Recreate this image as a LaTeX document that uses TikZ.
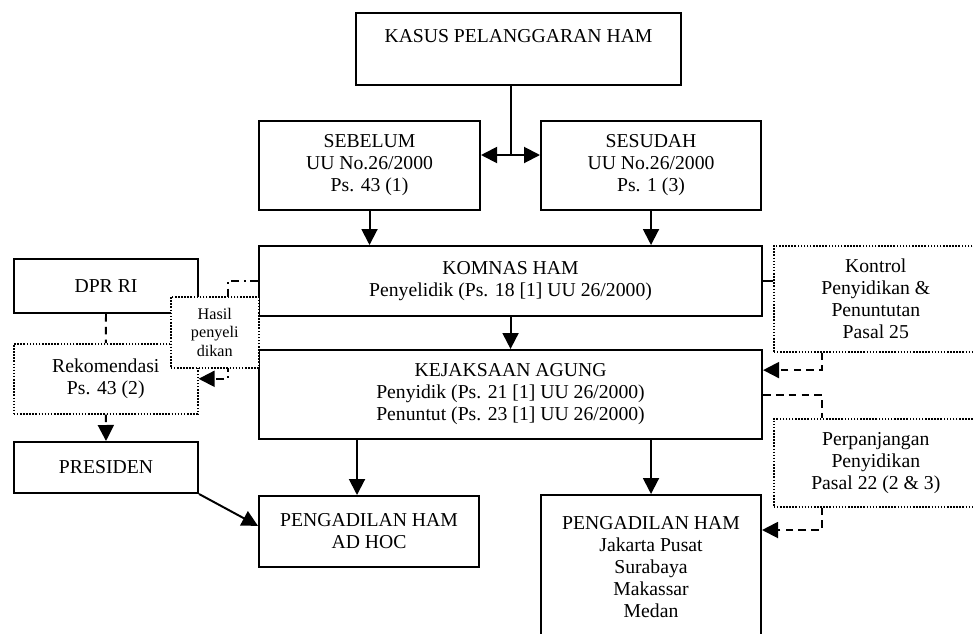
\documentclass[tikz,border=0pt]{standalone}
\usepackage{fontspec}
\setmainfont{Liberation Serif}
\usetikzlibrary{arrows.meta}
\tikzset{
  box/.style={draw, line width=1.4pt, align=center, inner sep=2pt, anchor=north west,
    font=\fontsize{14}{15.6}\selectfont},
  dotbox/.style={box, line width=1.1pt, dash pattern=on 1.1pt off 1.1pt, fill=white},
  tip/.style={-{Triangle[length=0.4cm,width=0.4cm]}},
  link/.style={line width=1.4pt},
  dashlink/.style={link, dash pattern=on 0.19cm off 0.13cm},
  dashdotlink/.style={link, dash pattern=on 0.2cm off 0.11cm on 0.05cm off 0.11cm},
}
\begin{document}
\begin{tikzpicture}[x=0.025cm,y=-0.025cm]
  \useasboundingbox (0,0) rectangle (974,633);
  % main column
  \node (kasus) [box, minimum width=8.125cm, minimum height=1.8cm, text height=10pt, text depth=18.6pt]
    at (355,12) {KASUS PELANGGARAN HAM};
  \node (sebelum) [box, minimum width=5.525cm, minimum height=2.225cm]
    at (258,120) {SEBELUM\\UU No.26/2000\\Ps. 43 (1)};
  \node (sesudah) [box, minimum width=5.5cm, minimum height=2.225cm]
    at (540,120) {SESUDAH\\UU No.26/2000\\Ps. 1 (3)};
  \node (komnas) [box, minimum width=12.575cm, minimum height=1.75cm]
    at (258,245) {KOMNAS HAM\\Penyelidik (Ps. 18 [1] UU 26/2000)};
  \node (kejaksaan) [box, minimum width=12.575cm, minimum height=2.225cm]
    at (258,349) {KEJAKSAAN AGUNG\\Penyidik (Ps. 21 [1] UU 26/2000)\\Penuntut (Ps. 23 [1] UU 26/2000)};
  \node (adhoc) [box, minimum width=5.5cm, minimum height=1.775cm]
    at (258,495) {PENGADILAN HAM\\AD HOC};
  \node (pengadilan) [box, minimum width=5.5cm, minimum height=3.6cm]
    at (540,494) {PENGADILAN HAM\\Jakarta Pusat\\Surabaya\\Makassar\\Medan};
  % left column
  \node (dpr) [box, minimum width=4.6cm, minimum height=1.35cm] at (13,258) {DPR RI};
  \node (rekom) [dotbox, minimum width=4.6cm, minimum height=1.75cm]
    at (13,343) {Rekomendasi\\Ps. 43 (2)};
  \node (presiden) [box, minimum width=4.6cm, minimum height=1.275cm] at (13,441) {PRESIDEN};
  % right column
  \node (kontrol) [dotbox, minimum width=5.1cm, minimum height=2.65cm]
    at (773,245) {Kontrol\\Penyidikan \&\\Penuntutan\\Pasal 25};
  \node (perpanjangan) [dotbox, minimum width=5.1cm, minimum height=2.2cm]
    at (773,418) {Perpanjangan\\Penyidikan\\Pasal 22 (2 \& 3)};
  % connectors
  \coordinate (split) at (511,155);
  \coordinate (hasilbend) at (228,0);
  \coordinate (kx) at (822,0);
  \coordinate (adhocin) at ([xshift=-0.3cm]adhoc.north);
  \draw[link] (split |- kasus.south) -- (split);
  \draw[link,tip] (split) -- (split -| sebelum.east);
  \draw[link,tip] (split) -- (split -| sesudah.west);
  \draw[link,tip] (sebelum.south) -- (sebelum.south |- komnas.north);
  \draw[link,tip] (sesudah.south) -- (sesudah.south |- komnas.north);
  \draw[link,tip] (komnas.south) -- (komnas.south |- kejaksaan.north);
  \draw[link,tip] (adhocin |- kejaksaan.south) -- (adhocin);
  \draw[link,tip] (pengadilan.north |- kejaksaan.south) -- (pengadilan.north);
  \draw[link,tip] (presiden.south east) -- ([yshift=0.14cm]adhoc.west);
  \draw[dashlink] (dpr.south) -- (rekom.north);
  \draw[dashlink,tip] (rekom.south) -- (presiden.north);
  \draw[dashdotlink,tip] (komnas.west) -- (komnas.west -| hasilbend) |- (rekom.east);
  \draw[link] (komnas.east) -- (komnas.east -| kontrol.west);
  \draw[dashlink,tip] (kontrol.south -| kx) |- ([yshift=0.61cm]kejaksaan.east);
  \draw[dashlink] ([yshift=-0.0125cm]kejaksaan.east) -| (perpanjangan.north -| kx);
  \draw[dashlink,tip] (perpanjangan.south -| kx) |- ([yshift=-0.9cm]pengadilan.north east);
  % drawn last, over the corners below it
  \node (hasil) [dotbox, minimum width=2.2cm, minimum height=1.775cm, inner sep=1pt,
    font=\fontsize{11.5}{13}\selectfont] at (170,296) {Hasil\\penyeli\\dikan};
\end{tikzpicture}
\end{document}
